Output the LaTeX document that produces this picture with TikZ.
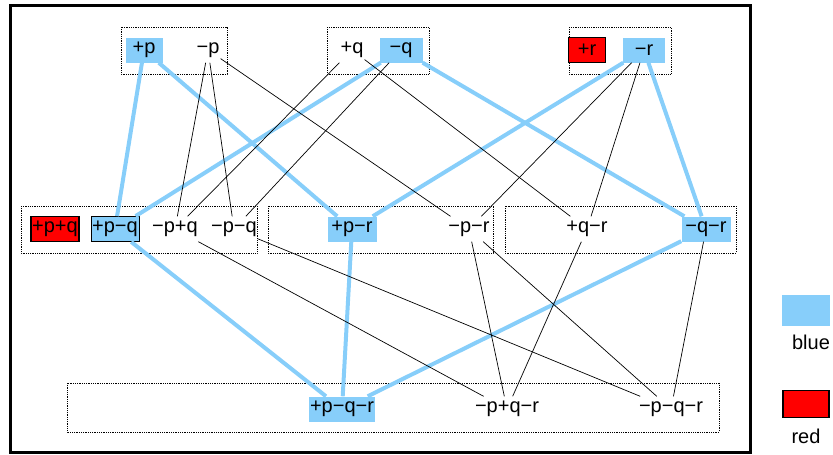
\documentclass[tikz,border=0pt]{standalone}
\usepackage{fontspec}
\setmainfont{Liberation Sans}
\definecolor{skyblue}{RGB}{135,206,250}
\tikzset{
  lit/.style={inner xsep=1pt, inner ysep=0pt, minimum height=25pt, font=\fontsize{20}{22}\selectfont},
  bluelit/.style={lit, fill=skyblue},
  redlit/.style={lit, fill=red, draw=black, line width=1.5pt},
  group/.style={densely dotted, line width=0.8pt},
  thickedge/.style={skyblue, line width=4pt},
  thinedge/.style={black, line width=0.7pt},
}
\begin{document}
\begin{tikzpicture}[x=1pt,y=-1pt]
\useasboundingbox (0,0) rectangle (833,455);
\draw[line width=3pt] (10,5) rectangle (750,452);

% groups
\draw[group] (121,27) rectangle (227,74);
\draw[group] (327,27) rectangle (429,74);
\draw[group] (569,27) rectangle (671,74);

\draw[group] (21,206) rectangle (257,253);
\draw[group] (268,206) rectangle (493,253);
\draw[group] (505,206) rectangle (736,253);

\draw[group] (67,383) rectangle (719,432);

% literals
\node[bluelit, minimum width=37pt] (pP) at (144,50) {+p};
\node[lit] (mP) at (208,50) {−p};
\node[lit] (pQ) at (352,50) {+q};
\node[bluelit, minimum width=43pt] (mQ) at (401,50) {−q};
\node[redlit, minimum width=37pt] (pR) at (587,50) {+r};
\node[bluelit, minimum width=42pt] (mR) at (644,50) {−r};

\node[redlit, minimum width=47pt] (pPpQ) at (55,229) {+p+q};
\node[bluelit, draw=black, line width=0.8pt, minimum width=48pt] (pPmQ) at (115,229) {+p−q};
\node[lit] (mPpQ) at (175,229) {−p+q};
\node[lit] (mPmQ) at (234,229) {−p−q};
\node[bluelit, minimum width=49pt] (pPmR) at (352,229) {+p−r};
\node[lit] (mPmR) at (469,229) {−p−r};
\node[lit] (pQmR) at (587,229) {+q−r};
\node[bluelit, minimum width=49pt] (mQmR) at (706,229) {−q−r};

\node[bluelit, minimum width=58pt] (pPmQmR) at (342,409) {+p−q−r};
\node[lit] (mPpQmR) at (507,409) {−p+q−r};
\node[lit] (mPmQmR) at (671,409) {−p−q−r};

% legend
\node[bluelit, minimum width=48pt, minimum height=31pt] (blueKey) at (806,310) {};
\node[lit] (blueText) at (811,342) {blue};
\node[redlit, minimum width=46pt, minimum height=27pt] (redKey) at (806,404) {};
\node[lit] (redText) at (806,436) {red};

% thick edges
\draw[thickedge] (pP) -- (pPmQ);
\draw[thickedge] (pP) -- (pPmR);
\draw[thickedge] (mQ) -- (pPmQ);
\draw[thickedge] (mQ) -- (mQmR);
\draw[thickedge] (mR) -- (pPmR);
\draw[thickedge] (mR) -- (mQmR);
\draw[thickedge] (pPmQ) -- (pPmQmR);
\draw[thickedge] (pPmR) -- (pPmQmR);
\draw[thickedge] (mQmR) -- (pPmQmR);

% thin edges
\draw[thinedge] (mP) -- (mPpQ);
\draw[thinedge] (mP) -- (mPmQ);
\draw[thinedge] (mP) -- (mPmR);
\draw[thinedge] (pQ) -- (mPpQ);
\draw[thinedge] (pQ) -- (pQmR);
\draw[thinedge] (mQ) -- (mPmQ);
\draw[thinedge] (mR) -- (mPmR);
\draw[thinedge] (mR) -- (pQmR);

\draw[thinedge] (mPpQ) -- (mPpQmR);
\draw[thinedge] (mPmQ) -- (mPmQmR);
\draw[thinedge] (mPmR) -- (mPpQmR);
\draw[thinedge] (mPmR) -- (mPmQmR);
\draw[thinedge] (pQmR) -- (mPpQmR);
\draw[thinedge] (mQmR) -- (mPmQmR);
\end{tikzpicture}
\end{document}
